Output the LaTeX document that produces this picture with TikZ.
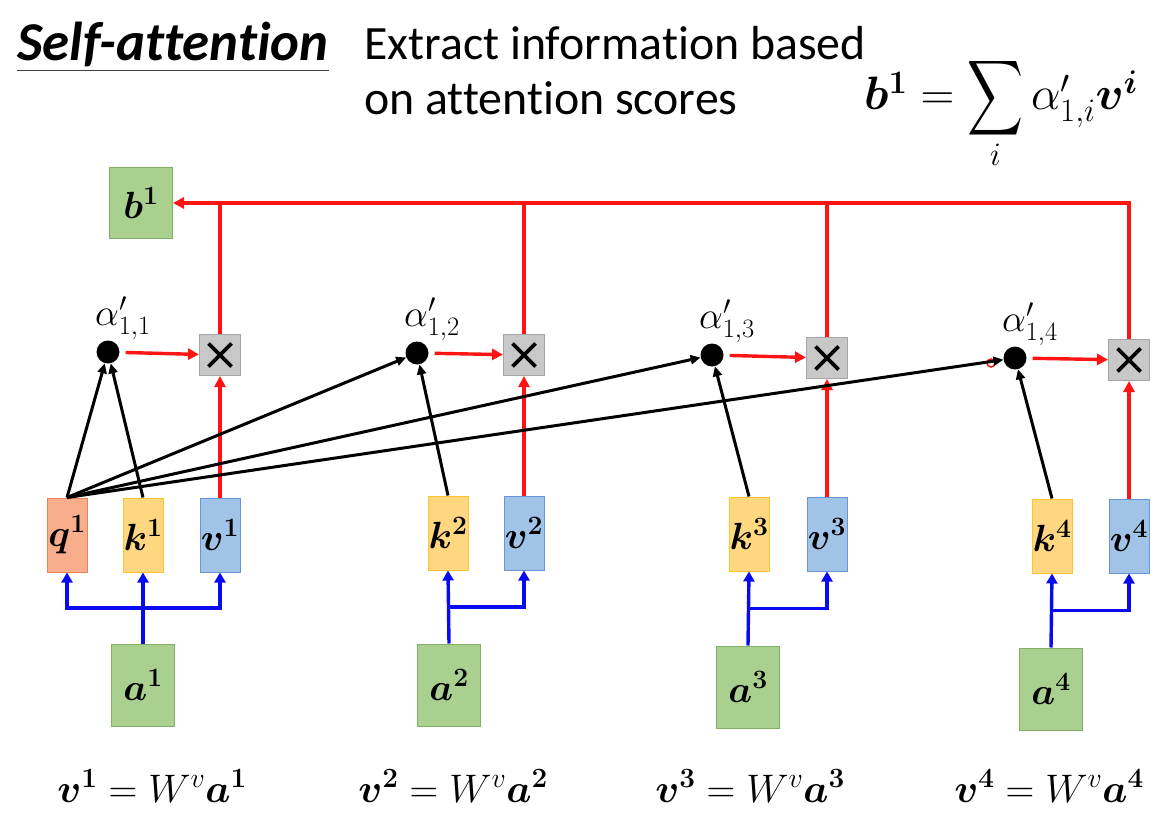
\RequirePackage{fix-cm}
\documentclass[tikz,border=0pt]{standalone}
\usepackage{amsmath,bm,graphicx}
\usepackage[no-math]{fontspec}
\setmainfont{Carlito}[Ligatures=NoCommon]
\usetikzlibrary{arrows.meta,calc}

\definecolor{gfill}{RGB}{169,208,142}
\definecolor{gline}{RGB}{130,177,101}
\definecolor{qfill}{RGB}{248,173,140}
\definecolor{qline}{RGB}{236,130,90}
\definecolor{kfill}{RGB}{255,215,128}
\definecolor{kline}{RGB}{255,195,45}
\definecolor{vfill}{RGB}{162,195,232}
\definecolor{vline}{RGB}{105,150,210}
\definecolor{xfill}{RGB}{200,200,200}
\definecolor{xline}{RGB}{165,165,165}
\definecolor{redarr}{RGB}{255,20,20}
\definecolor{bluearr}{RGB}{10,10,240}

\newcommand{\bigsum}{\mathop{\vcenter{\hbox{\resizebox*{56bp}{84bp}{$\displaystyle\sum$}}}}\limits}

\begin{document}
\begin{tikzpicture}[x=1bp,y=-1bp]
\tikzstyle{vecbox}=[draw,line width=1bp,inner sep=0pt,font=\fontsize{38}{40}\selectfont]
\tikzstyle{avec}=[vecbox,fill=gfill,draw=gline,minimum width=63bp,minimum height=82bp]
\tikzstyle{qvec}=[vecbox,fill=qfill,draw=qline,minimum width=40bp,minimum height=74bp]
\tikzstyle{kvec}=[vecbox,fill=kfill,draw=kline,minimum width=40bp,minimum height=74bp]
\tikzstyle{vvec}=[vecbox,fill=vfill,draw=vline,minimum width=40bp,minimum height=74bp]
\tikzstyle{mult}=[draw=xline,fill=xfill,line width=1bp,minimum size=41bp,inner sep=0pt,
  path picture={\draw[black,line width=3.6bp] ([shift={(9bp,9bp)}]path picture bounding box.south west) -- ([shift={(-9bp,-9bp)}]path picture bounding box.north east);
    \draw[black,line width=3.6bp] ([shift={(9bp,-9bp)}]path picture bounding box.north west) -- ([shift={(-9bp,9bp)}]path picture bounding box.south east);}]
\tikzstyle{score}=[circle,fill=black,minimum size=23bp,inner sep=0pt]
\tikzstyle{scorelabel}=[label distance=-3bp,font=\fontsize{38}{38}\selectfont]
\tikzstyle{redline}=[draw=redarr,line width=3.4bp,-{Triangle[length=11bp,width=11bp]}]
\tikzstyle{blackline}=[line width=3bp,-{Triangle[length=10bp,width=9bp]}]
\tikzstyle{blueline}=[draw=bluearr,line width=3.4bp,-{Triangle[length=10bp,width=11bp]}]
\tikzstyle{formula}=[inner sep=0pt,font=\fontsize{40}{42}\selectfont]

\useasboundingbox (0,0) rectangle (1175,822);

% heading
\node[anchor=base west,inner sep=0pt,font=\fontsize{55}{60}\selectfont\bfseries\itshape] (title) at (17,61) {Self-attention};
\draw[line width=1.3bp,black!75] ([yshift=-3bp]title.south west) -- ([yshift=-3bp]title.south east);
\node[anchor=base west,inner sep=0pt,align=left,font=\fontsize{48}{56}\selectfont] (desc) at (364,115) {Extract information based\\on attention scores};
\node[anchor=base west,inner sep=0pt,font=\fontsize{47}{50}\selectfont] (sum) at (864,110) {$\bm{b}^{\mathbf{1}} = \bigsum_{i} \alpha'_{1,i}\bm{v}^{\bm{i}}$};

% output
\node[avec,minimum height=71bp] (b1) at (141,203) {$\bm{b}^{\mathbf{1}}$};

% first column
\node[score,label={[scorelabel,xshift=15bp]above:$\alpha'_{1,1}$}] (s1) at (108,352) {};
\node[mult] (m1) at (220,355) {};
\node[qvec] (q1) at (67,535) {$\bm{q}^{\mathbf{1}}$};
\node[kvec] (k1) at (143,535) {$\bm{k}^{\mathbf{1}}$};
\node[vvec] (v1) at (220,535) {$\bm{v}^{\mathbf{1}}$};
\node[avec] (a1) at (143,685) {$\bm{a}^{\mathbf{1}}$};
\coordinate (j1) at ($(a1.north)!0.5!(k1.south)$);
\node[formula] (e1) at (152,786) {$\bm{v}^{\mathbf{1}} = W^{v}\bm{a}^{\mathbf{1}}$};

% second column
\node[score,label={[scorelabel,xshift=15bp]above:$\alpha'_{1,2}$}] (s2) at (417,353) {};
\node[mult] (m2) at (524,355) {};
\node[kvec] (k2) at (448,533) {$\bm{k}^{\mathbf{2}}$};
\node[vvec] (v2) at (524,533) {$\bm{v}^{\mathbf{2}}$};
\node[avec] (a2) at (449,685) {$\bm{a}^{\mathbf{2}}$};
\coordinate (j2) at ($(a2.north)!0.5!(k2.south)$);
\node[formula] (e2) at (453,786) {$\bm{v}^{\mathbf{2}} = W^{v}\bm{a}^{\mathbf{2}}$};

% third column
\node[score,label={[scorelabel,xshift=15bp]above:$\alpha'_{1,3}$}] (s3) at (712,355) {};
\node[mult] (m3) at (827,358) {};
\node[kvec] (k3) at (749,534) {$\bm{k}^{\mathbf{3}}$};
\node[vvec] (v3) at (827,534) {$\bm{v}^{\mathbf{3}}$};
\node[avec] (a3) at (748,687) {$\bm{a}^{\mathbf{3}}$};
\coordinate (j3) at ($(a3.north)!0.5!(k3.south)$);
\node[formula] (e3) at (750,786) {$\bm{v}^{\mathbf{3}} = W^{v}\bm{a}^{\mathbf{3}}$};

% fourth column
\node[score,label={[scorelabel,xshift=15bp]above:$\alpha'_{1,4}$}] (s4) at (1015,358) {};
\node[mult] (m4) at (1129,360) {};
\node[kvec] (k4) at (1052,536) {$\bm{k}^{\mathbf{4}}$};
\node[vvec] (v4) at (1129,536) {$\bm{v}^{\mathbf{4}}$};
\node[avec] (a4) at (1051,689) {$\bm{a}^{\mathbf{4}}$};
\coordinate (j4) at ($(a4.north)!0.5!(k4.south)$);
\node[formula] (e4) at (1049,786) {$\bm{v}^{\mathbf{4}} = W^{v}\bm{a}^{\mathbf{4}}$};

% pointer mark
\node[circle,draw=redarr,line width=1.5bp,minimum size=8bp,inner sep=0pt] (pointer) at (991,363) {};

% weighted sum
\draw[redline] (m4.north) |- (b1.east);
\draw[redline,-] (m1.north) -- (m1.north |- b1.east);
\draw[redline,-] (m2.north) -- (m2.north |- b1.east);
\draw[redline,-] (m3.north) -- (m3.north |- b1.east);
\draw[redline,shorten <=6bp] (s1) -- (m1);
\draw[redline,shorten <=6bp] (s2) -- (m2);
\draw[redline,shorten <=6bp] (s3) -- (m3);
\draw[redline,shorten <=6bp] (s4) -- (m4);
\draw[redline] (v1) -- (m1);
\draw[redline] (v2) -- (m2);
\draw[redline] (v3) -- (m3);
\draw[redline] (v4) -- (m4);

% attention scores
\draw[blackline] (q1.north) -- (s1);
\draw[blackline] (k1.north) -- (s1);
\draw[blackline] (q1.north) -- (s2);
\draw[blackline] (q1.north) -- (s3);
\draw[blackline] (q1.north) -- (s4);
\draw[blackline] (k2.north) -- (s2);
\draw[blackline] (k3.north) -- (s3);
\draw[blackline] (k4.north) -- (s4);

% projections
\draw[blueline] (a1.north) -- (k1.south);
\draw[blueline] (j1) -| (q1.south);
\draw[blueline] (j1) -| (v1.south);
\draw[blueline] (a2.north) -- (k2.south);
\draw[blueline] (j2) -| (v2.south);
\draw[blueline] (a3.north) -- (k3.south);
\draw[blueline] (j3) -| (v3.south);
\draw[blueline] (a4.north) -- (k4.south);
\draw[blueline] (j4) -| (v4.south);
\end{tikzpicture}
\end{document}
